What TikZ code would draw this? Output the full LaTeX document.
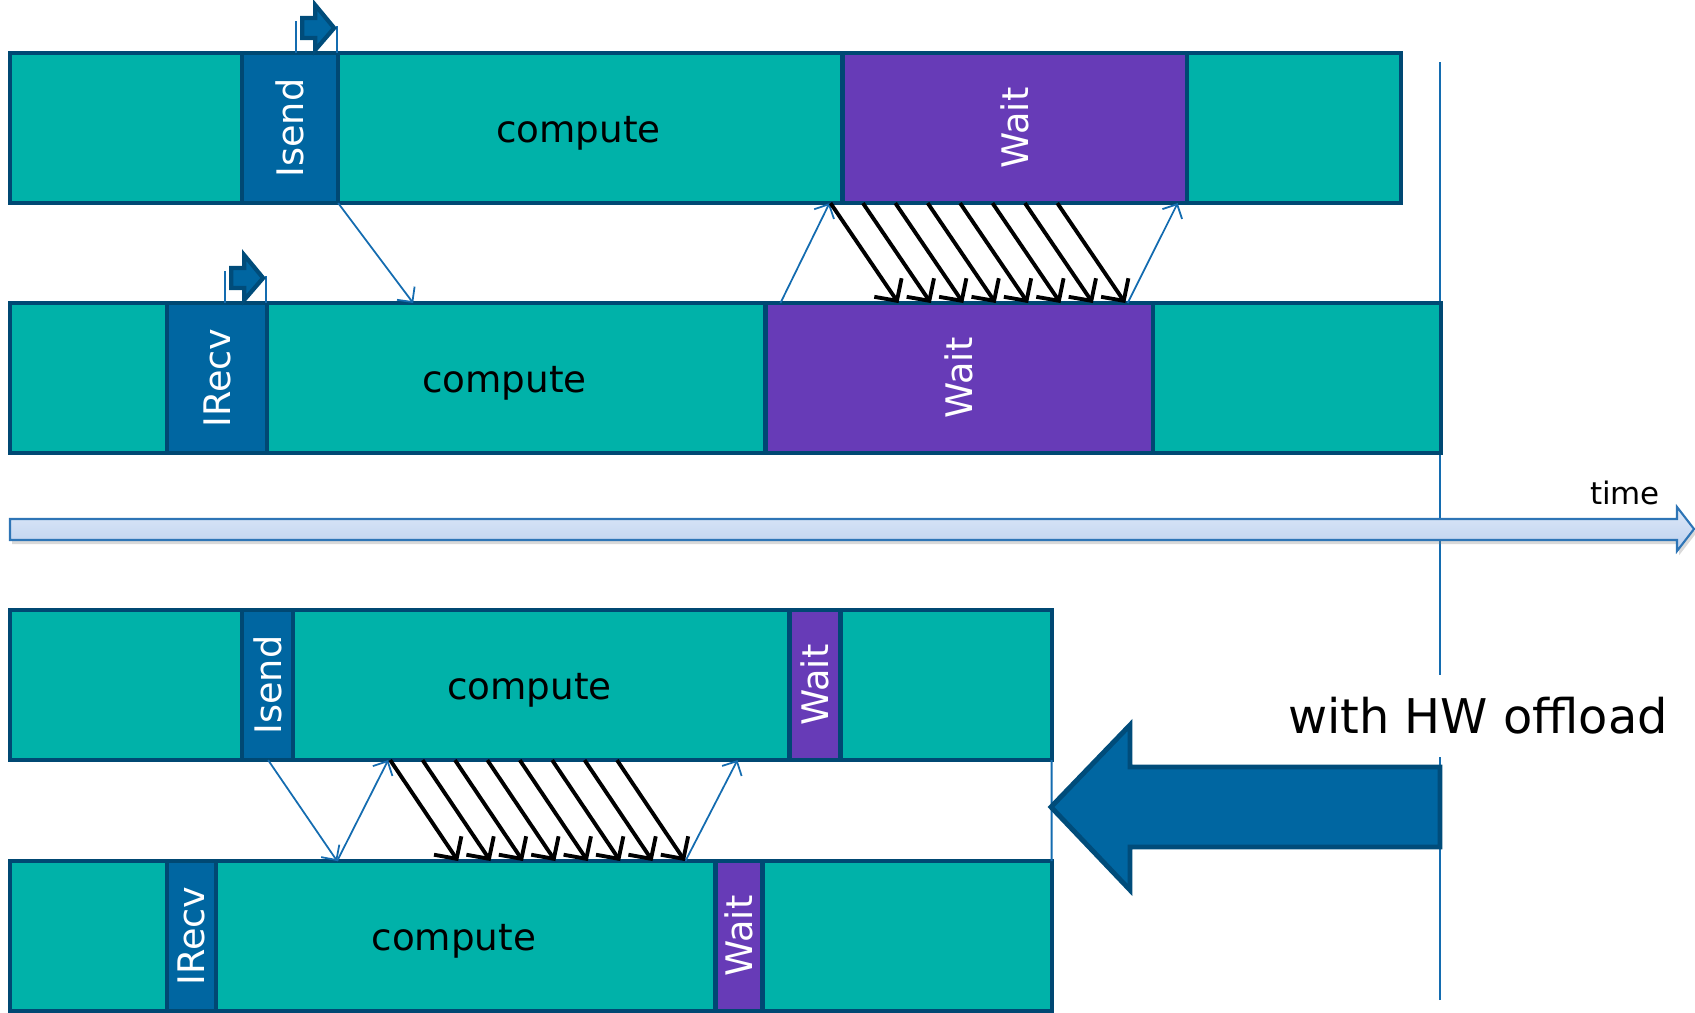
\documentclass[tikz,border=0pt]{standalone}
\usepackage{fontspec}
\setmainfont{DejaVu Sans}
\usepackage{graphicx}
\usepackage{xcolor}
\usetikzlibrary{positioning, calc, arrows.meta, shadows}

\definecolor{busyteal}{RGB}{0,178,169}
\definecolor{segborder}{RGB}{0,72,115}
\definecolor{commblue}{RGB}{0,102,161}
\definecolor{waitpurple}{RGB}{103,59,183}
\definecolor{msgblue}{RGB}{20,108,176}
\definecolor{timetop}{RGB}{222,233,248}
\definecolor{timebottom}{RGB}{188,208,238}
\definecolor{timeborder}{RGB}{46,117,182}
\definecolor{flagborder}{RGB}{0,76,122}

\begin{document}
\begin{tikzpicture}[
    x=0.01cm, y=-0.01cm,
    seg/.style={
        rectangle, draw=segborder, line width=1.2pt,
        inner sep=0pt, outer sep=0pt, minimum height=1.5cm,
        font=\fontsize{10.4}{12}\selectfont
    },
    busy/.style={seg, fill=busyteal},
    work/.style={busy, label={[font=\fontsize{10.6}{12}\selectfont, shift={(-12,5)}]center:compute}},
    comm/.style={seg, fill=commblue, text=white},
    idle/.style={seg, fill=waitpurple, text=white},
    msg/.style={-{Straight Barb[length=1.1mm, width=2.2mm]}, draw=msgblue, line width=0.5pt},
    data/.style={-{Straight Barb[length=1.6mm, width=3.3mm]}, line width=1.1pt},
    vline/.style={draw=msgblue, line width=0.5pt},
    flagarrow/.style={draw=flagborder, fill=commblue, line width=1.2pt},
    sendflag/.pic={
        \draw[vline] (-42,-32) -- (-42,0) (-1,-27) -- (-1,0);
        \draw[flagarrow] (-36,-35) -- (-23,-35) -- (-23,-48) -- (-4,-25)
            -- (-23,-3) -- (-23,-15) -- (-36,-15) -- cycle;
    }
]
\useasboundingbox (0,0) rectangle (1695,1012);

% time marker line, broken round the label
\node[font=\fontsize{13.6}{16}\selectfont, minimum height=0.8cm, inner sep=0pt] (hw) at (1478,716) {with HW offload};
\coordinate (vtop) at (1440,62);
\coordinate (vbot) at (1440,1000);
\draw[vline] (vtop) -- (vtop |- hw.north);
\draw[vline] (vbot) -- (vbot |- hw.south);

% 1. Without offload: sender
\node[busy, minimum width=2.32cm, anchor=north west] (r1a) at (10,53) {};
\node[comm, minimum width=0.96cm, right=0pt of r1a] (r1send) {\rotatebox{90}{Isend}};
\node[work, minimum width=5.04cm, right=0pt of r1send] (r1comp) {};
\node[idle, minimum width=3.44cm, right=0pt of r1comp] (r1wait) {\rotatebox{90}{Wait}};
\node[busy, minimum width=2.14cm, right=0pt of r1wait] (r1b) {};

% 2. Without offload: receiver
\node[busy, minimum width=1.57cm, anchor=north west] (r2a) at (10,303) {};
\node[comm, minimum width=1.00cm, right=0pt of r2a] (r2recv) {\rotatebox{90}{IRecv}};
\node[work, minimum width=4.98cm, right=0pt of r2recv] (r2comp) {};
\node[idle, minimum width=3.87cm, right=0pt of r2comp] (r2wait) {\rotatebox{90}{Wait}};
\node[busy, minimum width=2.88cm, right=0pt of r2wait] (r2b) {};

\pic at (r1send.north east) {sendflag};
\pic at (r2recv.north east) {sendflag};

% messages between the two
\draw[msg] (r1send.south east) -- ($(r2comp.north west)+(146,0)$);
\draw[msg] ($(r2wait.north west)+(15,0)$) -- ($(r1wait.south west)+(-13,0)$);
\draw[msg] ($(r2wait.north east)+(-25,0)$) -- ($(r1wait.south east)+(-9,0)$);
\foreach \i in {0,...,7}
    \draw[data] ($(r1wait.south west)+(32.4*\i-12,0)$) -- ($(r2wait.north west)+(133+32.4*\i,0)$);

% 3. Time axis
\draw[draw=timeborder, line width=0.6pt, top color=timetop, bottom color=timebottom,
      drop shadow={shadow xshift=0.6pt, shadow yshift=-1.2pt, opacity=0.3}]
    (10,519) -- (1677,519) -- (1677,507) -- (1694,529) -- (1677,551) -- (1677,540) -- (10,540) -- cycle;
\node[font=\fontsize{8.8}{10}\selectfont] (timelbl) at (1625,493) {time};

% 4. With offload: sender
\node[busy, minimum width=2.32cm, anchor=north west] (r3a) at (10,610) {};
\node[comm, minimum width=0.51cm, right=0pt of r3a] (r3send) {\rotatebox{90}{Isend}};
\node[work, minimum width=4.96cm, right=0pt of r3send] (r3comp) {};
\node[idle, minimum width=0.51cm, right=0pt of r3comp] (r3wait) {\rotatebox{90}{Wait}};
\node[busy, minimum width=2.11cm, right=0pt of r3wait] (r3b) {};

% 5. With offload: receiver
\node[busy, minimum width=1.57cm, anchor=north west] (r4a) at (10,861) {};
\node[comm, minimum width=0.49cm, right=0pt of r4a] (r4recv) {\rotatebox{90}{IRecv}};
\node[work, minimum width=4.99cm, right=0pt of r4recv] (r4comp) {};
\node[idle, minimum width=0.47cm, right=0pt of r4comp] (r4wait) {\rotatebox{90}{Wait}};
\node[busy, minimum width=2.89cm, right=0pt of r4wait] (r4b) {};

\draw[vline] (r3b.south east) -- (r4b.north east);

% messages between the two
\draw[msg] ($(r3send.south west)+(26,0)$) -- ($(r4comp.north west)+(121,0)$);
\draw[msg] ($(r4comp.north west)+(121,0)$) -- ($(r3comp.south west)+(95,0)$);
\draw[msg] ($(r4wait.north west)+(-30,0)$) -- ($(r3wait.south west)+(-52,0)$);
\foreach \i in {0,...,7}
    \draw[data] ($(r3comp.south west)+(97+32.4*\i,0)$) -- ($(r4comp.north west)+(242+32.4*\i,0)$);

% 6. Big offload arrow
\draw[draw=flagborder, fill=commblue, line width=1.4pt]
    (1051,807) -- (1130,725) -- (1130,767) -- (1440,767) -- (1440,847) -- (1130,847) -- (1130,890) -- cycle;

\end{tikzpicture}
\end{document}
